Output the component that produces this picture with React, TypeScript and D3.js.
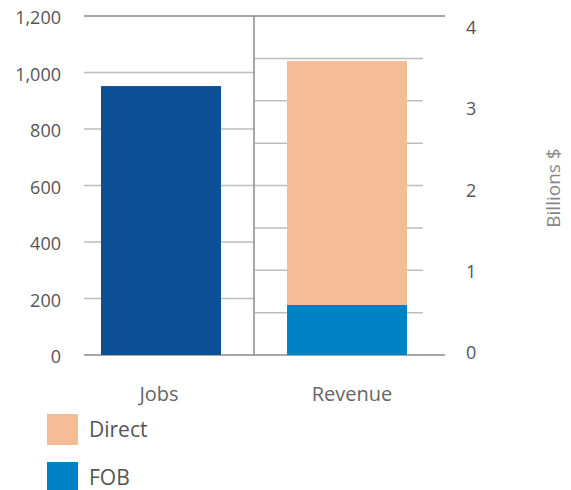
import React from "react";
import * as d3 from "d3";

const categories = ["Jobs", "Revenue"];
const jobsValue = 952;
const revenueDirect = 2.88;
const revenueFOB = 0.59;
const leftTicks = [0, 200, 400, 600, 800, 1000, 1200];
const rightTicks = [0, 1, 2, 3, 4];
const rightGridTicks = [0.5, 1, 1.5, 2, 2.5, 3, 3.5];
const legendItems = [
  { label: "Direct", color: "#f5bd95" },
  { label: "FOB", color: "#0082c8" },
];

const W = 571;
const H = 490;
const FONT = "'Open Sans', 'Noto Sans', sans-serif";

export default function App() {
  const yLeft = d3.scaleLinear().domain([0, 1200]).range([355, 16]);
  const yRight = d3.scaleLinear().domain([0, 4]).range([355, 16]);
  const yRightLabel = d3.scaleLinear().domain([0, 4]).range([352, 27]);
  const x = d3
    .scaleBand<string>()
    .domain(categories)
    .range([68, 440])
    .paddingInner(0.355)
    .paddingOuter(0.1775);

  const stack = d3.stack<any>().keys(["FOB", "Direct"]);
  const stacked = stack([{ FOB: revenueFOB, Direct: revenueDirect }]);
  const stackColors: Record<string, string> = { FOB: "#0082c8", Direct: "#f5bd95" };

  const plotL = 84;
  const divider = 254;
  const rightGridEnd = 423;
  const outerEnd = 445;

  return (
    <svg
      width={W}
      height={H}
      style={{ position: "absolute", left: 0, top: 0, display: "block" }}
      fontFamily={FONT}
    >
      <rect width={W} height={H} fill="#fff" />
      {/* left gridlines */}
      {leftTicks.map((t) => {
        const edge = t === 0 || t === 1200;
        return (
          <line
            key={"lg" + t}
            x1={plotL}
            x2={edge ? outerEnd : divider}
            y1={yLeft(t)}
            y2={yLeft(t)}
            stroke={edge ? "#8a8a8a" : "#bdbdbd"}
            strokeWidth={1.5}
          />
        );
      })}
      {/* right gridlines */}
      {rightGridTicks.map((t) => (
        <line
          key={"rg" + t}
          x1={divider + 1}
          x2={rightGridEnd}
          y1={yRight(t)}
          y2={yRight(t)}
          stroke="#bdbdbd"
          strokeWidth={1.5}
        />
      ))}
      {/* divider */}
      <line x1={divider} x2={divider} y1={yLeft(1200)} y2={yLeft(0)} stroke="#8a8a8a" strokeWidth={1.5} />

      {/* Jobs bar */}
      <rect
        x={x("Jobs")}
        width={x.bandwidth()}
        y={yLeft(jobsValue)}
        height={yLeft(0) - yLeft(jobsValue)}
        fill="#0b4f94"
      />
      {/* Revenue stacked bar */}
      {stacked.map((s) => (
        <rect
          key={s.key}
          x={x("Revenue")}
          width={x.bandwidth()}
          y={yRight(s[0][1])}
          height={yRight(s[0][0]) - yRight(s[0][1])}
          fill={stackColors[s.key]}
        />
      ))}

      {/* left axis labels */}
      {leftTicks.map((t) => (
        <text
          key={"ll" + t}
          x={61}
          y={yLeft(t) + 1}
          textAnchor="end"
          dominantBaseline="central"
          fontSize={18}
          fill="#555"
        >
          {d3.format(",")(t)}
        </text>
      ))}
      {/* right axis labels */}
      {rightTicks.map((t) => (
        <text
          key={"rl" + t}
          x={466}
          y={yRightLabel(t)}
          textAnchor="start"
          dominantBaseline="central"
          fontSize={18}
          fill="#555"
        >
          {t}
        </text>
      ))}
      <text
        transform={`translate(553,188) rotate(-90)`}
        textAnchor="middle"
        dominantBaseline="central"
        fontSize={19}
        fill="#888"
      >
        Billions $
      </text>

      {/* category labels */}
      {categories.map((c) => (
        <text
          key={c}
          x={(x(c) as number) + x.bandwidth() / 2 - (c === "Jobs" ? 2 : -5)}
          y={393}
          textAnchor="middle"
          dominantBaseline="central"
          fontSize={20}
          fill="#666"
        >
          {c}
        </text>
      ))}

      {/* legend */}
      {legendItems.map((d, i) => (
        <g key={d.label} transform={`translate(47,${414 + i * 48})`}>
          <rect width={31} height={31} fill={d.color} />
          <text x={42} y={15} dominantBaseline="central" fontSize={21} fill="#555">
            {d.label}
          </text>
        </g>
      ))}
    </svg>
  );
}
